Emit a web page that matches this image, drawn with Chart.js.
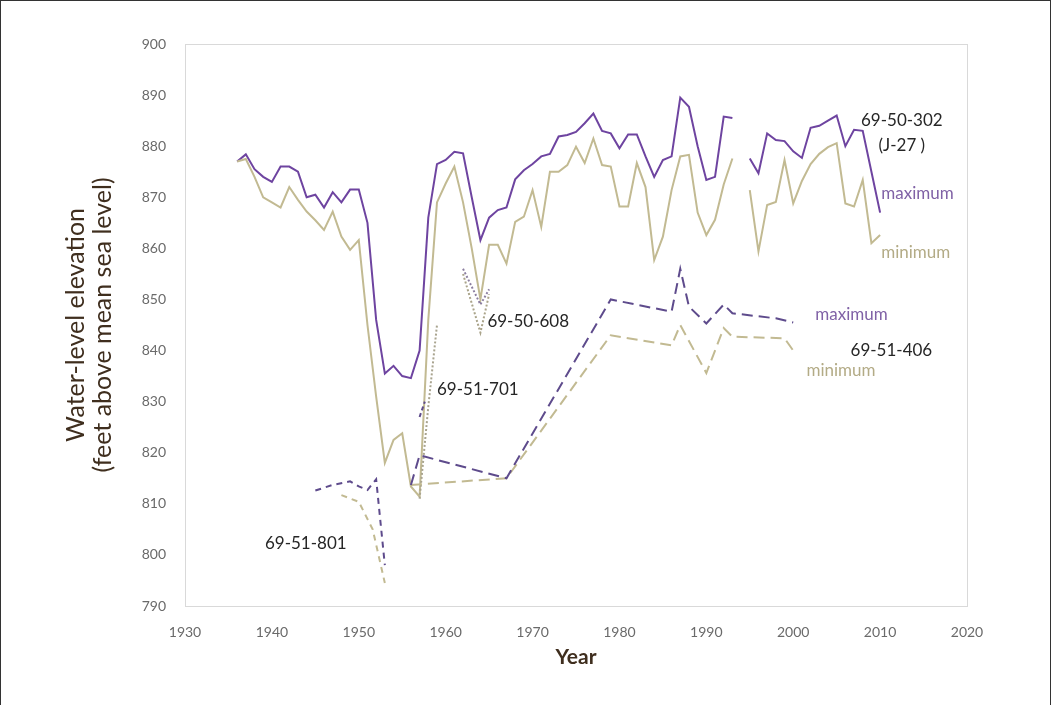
<!DOCTYPE html>
<html>
<head>
<meta charset="utf-8">
<script src="https://cdn.jsdelivr.net/npm/chart.js@4.4.1/dist/chart.umd.min.js"></script>
<style>
  html, body { margin: 0; padding: 0; background: #fff; }
  #wrap { position: relative; width: 1059px; height: 705px; overflow: hidden; }
  #edge { position: absolute; left: 0; top: 0; width: 1049px; height: 720px; border: 1px solid #333; pointer-events: none; }
  canvas { position: absolute; left: 0; top: 0; }
</style>
</head>
<body>
<div id="wrap">
  <canvas id="chart" width="1059" height="705"></canvas>
  <div id="edge"></div>
</div>
<script>
// well 69-50-302 (J-27), annual max / min
const years302 = [
  1936, 1937, 1938, 1939, 1940, 1941, 1942, 1943, 1944, 1945,
  1946, 1947, 1948, 1949, 1950, 1951, 1952, 1953, 1954, 1955,
  1956, 1957, 1958, 1959, 1960, 1961, 1962, 1963, 1964, 1965,
  1966, 1967, 1968, 1969, 1970, 1971, 1972, 1973, 1974, 1975,
  1976, 1977, 1978, 1979, 1980, 1981, 1982, 1983, 1984, 1985,
  1986, 1987, 1988, 1989, 1990, 1991, 1992, 1993, 1994, 1995,
  1996, 1997, 1998, 1999, 2000, 2001, 2002, 2003, 2004, 2005,
  2006, 2007, 2008, 2009, 2010
];
const max302 = [
  877, 878.4, 875.5, 874, 873, 876, 876, 875, 870, 870.5,
  868, 871, 869, 871.5, 871.5, 865, 846, 835.5, 837, 835,
  834.6, 840, 866, 876.5, 877.3, 878.9, 878.6, 870, 861.6, 866,
  867.5, 868, 873.5, 875.3, 876.5, 878, 878.5, 881.9, 882.2, 882.8,
  884.5, 886.4, 883, 882.5, 879.6, 882.3, 882.3, 878, 874, 877.3,
  878, 889.5, 887.7, 880, 873.4, 874, 885.8, 885.5, null, 877.6,
  874.7, 882.5, 881.2, 881, 879, 877.7, 883.6, 884, 885, 886,
  880, 883.2, 883, 875, 867
];
const min302 = [
  877, 877.5, 874, 870, 869, 868, 872, 869.5, 867.2, 865.5,
  863.6, 867.2, 862.3, 859.7, 861.6, 845, 831, 818, 822.5, 823.8,
  813.4, 811.4, 846, 869, 872.7, 876, 869, 860, 850, 860.7,
  860.7, 857, 865.2, 866.2, 871.4, 864.2, 875, 875, 876.3, 879.9,
  876.7, 881.5, 876.3, 876, 868.2, 868.2, 876.7, 872, 857.7, 862.3,
  871.4, 878, 878.3, 867, 862.6, 865.6, 872.5, 877.6, null, 871.4,
  859.4, 868.5, 869.1, 877.3, 868.8, 873.2, 876.5, 878.5, 879.8, 880.6,
  868.8, 868.2, 873.4, 861, 862.6
];

// well 69-51-406
const years406Max = [1956, 1957, 1967, 1979, 1986, 1987, 1988, 1990, 1992, 1993, 1998, 2000];
const max406 = [813.7, 819.5, 815, 850, 847.6, 856, 848.6, 845.3, 849, 847.3, 846.3, 845.5];
const years406Min = [1956, 1967, 1979, 1986, 1987, 1990, 1992, 1993, 1999, 2000];
const min406 = [813.7, 815, 843, 841, 845, 835.6, 844.4, 842.7, 842.4, 840];

// well 69-51-801
const years801Max = [1945, 1947, 1949, 1950, 1951, 1952, 1953];
const max801 = [812.6, 813.7, 814.4, 813.4, 812.7, 814.8, 798];
const years801Min = [1948, 1950, 1951.6, 1953];
const min801 = [811.7, 810.4, 805, 794.5];

// well 69-51-701
const years701Max = [1957, 1957.6];
const max701 = [827, 830];
const years701Min = [1957, 1958, 1959];
const min701 = [811, 829, 845];

// well 69-50-608
const years608 = [1962, 1964, 1965];
const max608 = [856, 849, 852];
const min608 = [855, 843.5, 851];

const xTicks = [1930, 2020, 10];
const yTicks = [790, 900, 10];

const purple = '#6e44a0';
const purpleDash = '#5e4b8c';
const tan = '#c2ba92';
const ink = '#262626';

// annotation text, placed in data units
const noteText  = ['69-50-302', '(J-27 )', 'maximum', 'minimum', '69-50-608', '69-51-701', 'maximum', '69-51-406', 'minimum', '69-51-801'];
const noteYear  = [2012.5, 2012.5, 2014.3, 2014.1, 1969.5, 1963.7, 2006.7, 2011.3, 2005.5, 1943.9];
const noteLevel = [885.1, 880.2, 870.8, 859.1, 845.6, 832.3, 847.0, 840.1, 836.0, 802.3];
const noteColor = [ink, ink, '#8062a6', '#b3ab86', ink, ink, '#8062a6', ink, '#b3ab86', ink];

const pts = (xs, ys) => xs.map((x, i) => ({ x: x, y: ys[i] }));

const line = (label, data, color, dash, width) => ({
  label: label,
  data: data,
  borderColor: color,
  borderWidth: width || 2,
  borderDash: dash || [],
  pointRadius: 0,
  tension: 0,
  spanGaps: false,
  fill: false
});

const frame = {
  id: 'frame',
  beforeDatasetsDraw(chart) {
    const { ctx, chartArea: a } = chart;
    ctx.save();
    ctx.strokeStyle = '#d9d9d9';
    ctx.lineWidth = 1;
    ctx.strokeRect(Math.round(a.left) + 0.5, Math.round(a.top) + 0.5, Math.round(a.right - a.left), Math.round(a.bottom - a.top));
    ctx.restore();
  }
};

const notes = {
  id: 'notes',
  afterDatasetsDraw(chart) {
    const { ctx, scales } = chart;
    ctx.save();
    ctx.font = '17px Lato';
    ctx.textAlign = 'center';
    ctx.textBaseline = 'middle';
    noteText.forEach((t, i) => {
      ctx.fillStyle = noteColor[i];
      ctx.fillText(t, scales.x.getPixelForValue(noteYear[i]), scales.y.getPixelForValue(noteLevel[i]));
    });
    ctx.restore();
  }
};

new Chart(document.getElementById('chart'), {
  type: 'line',
  data: {
    datasets: [
      line('69-51-801 max', pts(years801Max, max801), purpleDash, [6, 5]),
      line('69-51-801 min', pts(years801Min, min801), tan, [6, 5]),
      line('69-51-406 max', pts(years406Max, max406), purpleDash, [11, 6]),
      line('69-51-406 min', pts(years406Min, min406), tan, [11, 6]),
      line('69-51-701 max', pts(years701Max, max701), purpleDash, [4, 3]),
      line('69-51-701 min', pts(years701Min, min701), '#a9a48f', [2, 2]),
      line('69-50-608 max', pts(years608, max608), '#8c7fa0', [2, 2]),
      line('69-50-608 min', pts(years608, min608), '#aaa48a', [2, 2]),
      line('69-50-302 min', pts(years302, min302), tan),
      line('69-50-302 max', pts(years302, max302), purple)
    ]
  },
  options: {
    responsive: false,
    animation: false,
    layout: { padding: { left: 0, top: 44, right: 92, bottom: 0 } },
    plugins: { legend: { display: false }, tooltip: { enabled: false } },
    scales: {
      x: {
        type: 'linear',
        min: xTicks[0],
        max: xTicks[1],
        grid: { display: false, drawTicks: false },
        border: { display: false },
        ticks: {
          stepSize: xTicks[2],
          padding: 18,
          color: '#6a6a6a',
          font: { family: 'Lato', size: 14 },
          maxRotation: 0,
          autoSkip: false,
          callback: v => String(v)
        },
        title: {
          display: true,
          text: 'Year',
          color: '#3f2e1e',
          font: { family: 'Lato', size: 21, weight: 'bold' },
          padding: { top: 0, bottom: 35 }
        },
        afterFit(s) { s.height = 99; }
      },
      y: {
        min: yTicks[0],
        max: yTicks[1],
        grid: { display: false, drawTicks: false },
        border: { display: false },
        ticks: {
          stepSize: yTicks[2],
          padding: 19,
          color: '#6a6a6a',
          font: { family: 'Lato', size: 14 },
          callback: v => String(v)
        },
        title: {
          display: true,
          text: ['Water-level elevation', '(feet above mean sea level)'],
          color: '#3f2e1e',
          font: { family: 'Lato', size: 25, lineHeight: 1.06 },
          padding: { top: 63, bottom: 0 }
        },
        afterFit(s) { s.width = 185; }
      }
    }
  },
  plugins: [frame, notes]
});
</script>
</body>
</html>
